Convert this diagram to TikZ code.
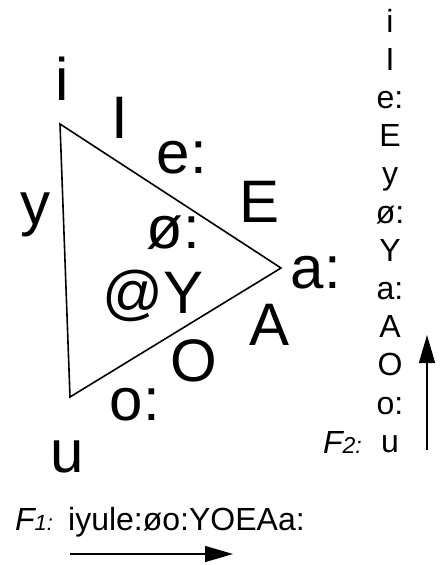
\documentclass[tikz,border=0pt]{standalone}
\usepackage{fontspec}
\setmainfont{Liberation Sans}
\usetikzlibrary{arrows.meta}

\begin{document}
\begin{tikzpicture}[x=1pt,y=-1pt,
  big/.style={inner sep=0pt,anchor=base,font=\fontsize{60}{72}\selectfont},
  small/.style={inner sep=0pt,anchor=base,font=\fontsize{32}{38}\selectfont},
  edge/.style={line width=1.6pt,line join=miter},
  >={Triangle[length=28pt,width=16pt]}]
\useasboundingbox (0,0) rectangle (445,565);
% vowel triangle
\coordinate (hi) at (60,124);
\coordinate (lo) at (281,268);
\coordinate (bk) at (70,397);
\draw[edge] (hi) -- (lo) -- (bk) -- cycle;
\node[big] (i) at (62,100) {i};
\node[big] (I) at (120,138) {I};
\node[big] (ee) at (182,173) {e:};
\node[big] (E) at (260,222) {E};
\node[big] (y) at (35,224) {y};
\node[big] (oe) at (173,248) {ø:};
\node[big] (aa) at (316,288) {a:};
\node[big] (schwa) at (153,313) {@Y};
\node[big] (A) at (270,345) {A};
\node[big] (O) at (194,381) {O};
\node[big] (oo) at (135,420) {o:};
\node[big] (u) at (67,472) {u};
% F2 order
\foreach \v [count=\k] in {i,I,e:,E,y,ø:,Y,a:,A,O,o:,u}
  \node[small] (f2\k) at (390,{32+38.2*(\k-1)}) {\v};
\node[small,anchor=base east] (f2lab) at (362,453)
  {\itshape F{\fontsize{23}{23}\selectfont 2:}};
\coordinate (f2a) at (427,450);
\coordinate (f2b) at (427,335);
\draw[->,line width=1.4pt] (f2a) -- (f2b);
% F1 order
\node[small,anchor=base west] (f1lab) at (15,530)
  {\itshape F{\fontsize{22}{22}\selectfont 1:}};
\node[small,anchor=base west] (f1seq) at (68,530) {iyule:øo:YOEAa:};
\coordinate (f1a) at (70,554);
\coordinate (f1b) at (233,554);
\draw[->,line width=1.4pt] (f1a) -- (f1b);
\end{tikzpicture}
\end{document}
